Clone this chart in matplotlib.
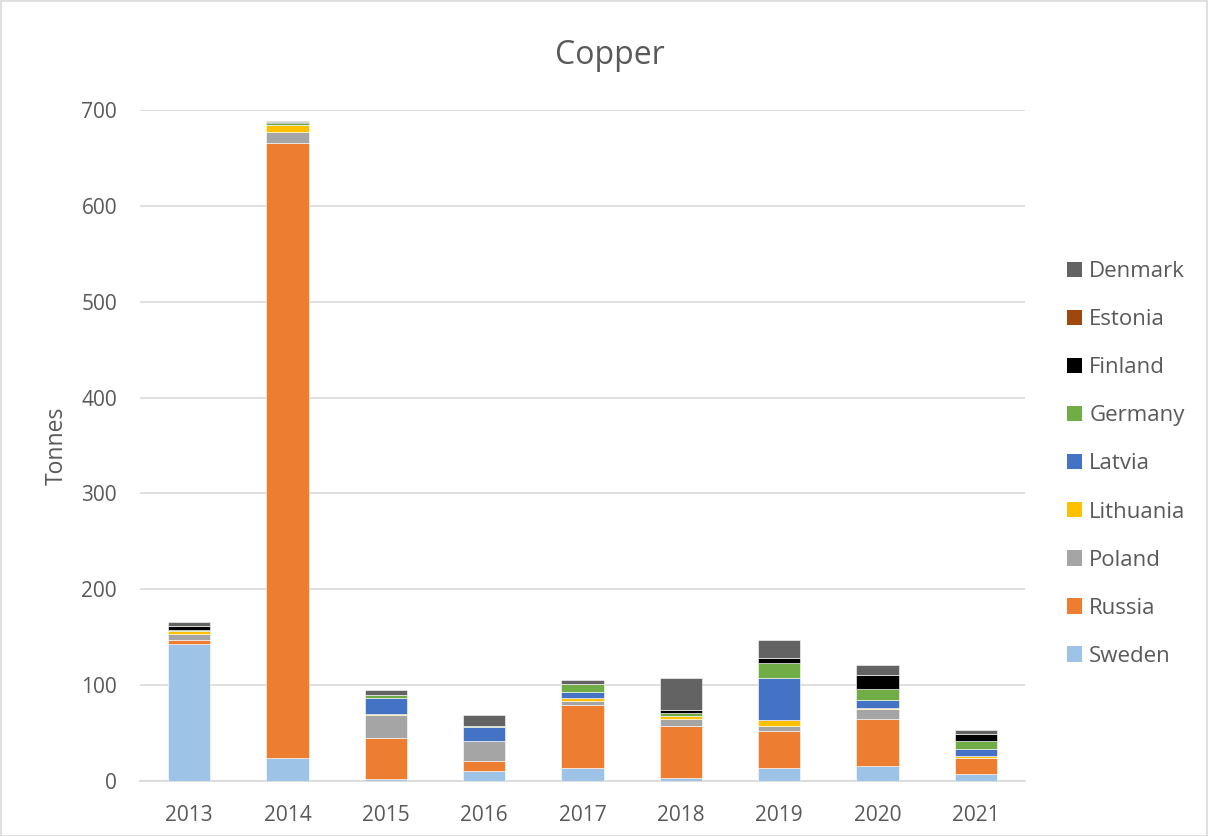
import matplotlib
matplotlib.use("Agg")
import matplotlib.pyplot as plt
from matplotlib.patches import Rectangle, Patch
import numpy as np

plt.rcParams['font.family'] = ['Open Sans', 'DejaVu Sans']

years = ["2013", "2014", "2015", "2016", "2017", "2018", "2019", "2020", "2021"]

# Stack order from bottom to top
sweden    = [143.0, 24.0,  2.0, 10.0, 14.0,  3.6, 13.8, 15.9,  7.5]
russia    = [  4.5, 642.0, 43.0, 10.7, 64.8, 54.0, 38.6, 49.3, 16.3]
poland    = [  6.0, 11.5, 23.6, 21.5,  5.0,  7.6,  4.8,  9.7,  0.0]
lithuania = [  3.0,  7.0,  1.5,  0.0,  3.0,  2.8,  6.6,  1.5,  1.8]
latvia    = [  0.0,  0.0, 17.0, 14.0,  5.6,  0.0, 43.9,  7.9,  7.3]
germany   = [  1.0,  1.5,  3.0,  1.5,  8.8,  3.1, 15.9, 11.2,  9.0]
finland   = [  4.0,  1.5,  0.0,  0.0,  0.0,  3.2,  4.2, 15.6,  7.3]
estonia   = [  0.0,  0.0,  0.0,  0.0,  0.0,  0.0,  0.0,  0.0,  0.0]
denmark   = [  4.0,  1.0,  4.7, 11.0,  3.8, 33.4, 19.5,  9.7,  3.5]

series = [
    ("Sweden", sweden, "#9DC3E6"),
    ("Russia", russia, "#ED7D31"),
    ("Poland", poland, "#A5A5A5"),
    ("Lithuania", lithuania, "#FFC000"),
    ("Latvia", latvia, "#4472C4"),
    ("Germany", germany, "#70AD47"),
    ("Finland", finland, "#000000"),
    ("Estonia", estonia, "#9E480E"),
    ("Denmark", denmark, "#636363"),
]

text_color = "#595959"
grid_color = "#D9D9D9"

fig = plt.figure(figsize=(12.08, 8.36), dpi=100)
ax = fig.add_axes([140 / 1208, 55 / 836, 885 / 1208, 671 / 836])

x = np.arange(len(years))
bottom = np.zeros(len(years))
handles = []
for name, vals, color in series:
    v = np.array(vals)
    ax.bar(x, v, width=0.43, bottom=bottom, color=color,
           edgecolor="white", linewidth=0.4, zorder=3)
    bottom += v
    handles.append(Patch(facecolor=color, label=name))

ax.set_xlim(-0.5, len(years) - 0.5)
ax.set_ylim(0, 700)
ax.set_yticks(np.arange(0, 701, 100))
ax.set_xticks(x)
ax.set_xticklabels(years)
ax.yaxis.grid(True, color=grid_color, linewidth=1.2, zorder=0)
ax.set_axisbelow(True)
for side in ["top", "right", "left"]:
    ax.spines[side].set_visible(False)
ax.spines["bottom"].set_color(grid_color)
ax.spines["bottom"].set_linewidth(1.2)
ax.tick_params(axis="both", length=0, labelsize=15, colors=text_color)
ax.tick_params(axis="x", pad=17.5)
ax.tick_params(axis="y", pad=16.5)

ax.set_ylabel("Tonnes", fontsize=16.5, color=text_color, labelpad=9)
fig.text(610 / 1208, 1 - 55 / 836, "Copper", fontsize=23, color=text_color,
         ha="center", va="center")

leg = fig.legend(handles=handles[::-1], loc="upper left",
                 bbox_to_anchor=(1047 / 1208, 1 - 241 / 836),
                 frameon=False, fontsize=16, handlelength=0.68,
                 handleheight=0.68, handletextpad=0.32, labelspacing=1.22,
                 labelcolor=text_color)

fig.patches.append(Rectangle((0.5 / 1208, 0.5 / 836), 1 - 1.5 / 1208, 1 - 1.5 / 836,
                             transform=fig.transFigure, fill=False,
                             edgecolor=grid_color, linewidth=1.2))

fig.savefig("out.png", dpi=100)
